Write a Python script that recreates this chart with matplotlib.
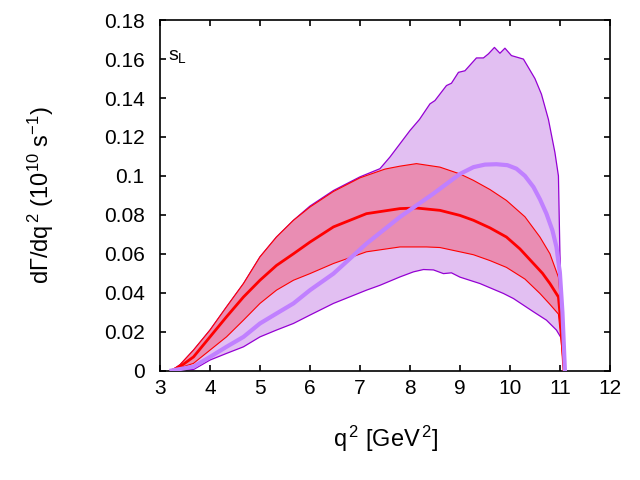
import numpy as np
import matplotlib
matplotlib.use("Agg")
import matplotlib.pyplot as plt
from matplotlib.ticker import FuncFormatter

plt.rcParams['font.family'] = ['Liberation Sans', 'DejaVu Sans']
plt.rcParams['mathtext.fontset'] = 'custom'
plt.rcParams['mathtext.rm'] = 'Liberation Sans'
plt.rcParams['mathtext.it'] = 'Liberation Sans'
plt.rcParams['mathtext.bf'] = 'Liberation Sans:bold'

# ---- data (q^2 in GeV^2, dGamma/dq^2 in 1e10 s^-1) ----
red_up_q = [3.23, 3.4, 3.67, 4.0, 4.33, 4.67, 5.0, 5.33, 5.67, 6.0, 6.47, 7.0, 7.5, 7.8, 8.13,
            8.6, 9.0, 9.27, 9.6, 9.93, 10.3, 10.6, 10.8, 10.97, 11.03, 11.08]
red_up_v = [0, 0.003, 0.0105, 0.0208, 0.0327, 0.0447, 0.0584, 0.0686, 0.0772, 0.084, 0.092, 0.099,
            0.1035, 0.105, 0.1063, 0.1045, 0.101, 0.0977, 0.093, 0.0874, 0.079, 0.0686, 0.060,
            0.048, 0.030, 0]

red_lo_q = [3.23, 3.67, 4.0, 4.33, 4.67, 5.0, 5.33, 5.67, 6.0, 6.47, 7.13, 7.8, 8.33, 8.6, 9.0,
            9.27, 9.6, 9.93, 10.3, 10.6, 10.8, 10.97, 11.08]
red_lo_v = [0, 0.0037, 0.0105, 0.0173, 0.0259, 0.0345, 0.0413, 0.0464, 0.0498, 0.055, 0.061,
            0.0635, 0.0635, 0.0632, 0.061, 0.0595, 0.0565, 0.053, 0.047, 0.0396, 0.034, 0.029, 0]

red_c_q = [3.23, 3.4, 3.67, 4.0, 4.33, 4.67, 5.0, 5.33, 5.67, 6.0, 6.47, 7.13, 7.8, 8.13, 8.6,
           9.0, 9.27, 9.6, 9.93, 10.2, 10.47, 10.65, 10.8, 10.97, 11.03, 11.08]
red_c_v = [0, 0.002, 0.007, 0.0173, 0.0276, 0.0378, 0.0464, 0.054, 0.060, 0.066, 0.0738, 0.0806,
           0.0832, 0.0835, 0.0823, 0.0797, 0.0772, 0.0733, 0.0686, 0.0625, 0.055, 0.050, 0.0447,
           0.0378, 0.021, 0]

pur_up_q = [3.23, 3.4, 3.67, 4.0, 4.33, 4.67, 5.0, 5.33, 5.67, 6.0, 6.47, 7.0, 7.4, 7.6, 7.8, 8.0,
            8.19, 8.4, 8.5, 8.73, 8.83, 8.97, 9.1, 9.33, 9.47, 9.57, 9.69, 9.8, 9.9, 10.03, 10.27,
            10.5, 10.63, 10.77, 10.9, 10.97, 11.0, 11.05, 11.1]
pur_up_v = [0, 0.003, 0.0105, 0.0208, 0.0327, 0.0447, 0.0584, 0.0686, 0.0772, 0.0845, 0.0925,
            0.0995, 0.1037, 0.1097, 0.1165, 0.1233, 0.129, 0.137, 0.1387, 0.1464, 0.1476, 0.1532,
            0.154, 0.1606, 0.1606, 0.1627, 0.166, 0.163, 0.1656, 0.1618, 0.160, 0.150, 0.142,
            0.129, 0.112, 0.100, 0.060, 0.020, 0]

pur_lo_q = [3.23, 3.67, 4.0, 4.33, 4.67, 5.0, 5.33, 5.67, 6.0, 6.47, 7.13, 7.4, 7.8, 8.07, 8.27,
            8.47, 8.67, 8.83, 9.0, 9.4, 9.87, 10.07, 10.47, 10.73, 10.93, 11.03, 11.1]
pur_lo_v = [0, 0.0005, 0.0054, 0.0088, 0.0122, 0.0173, 0.0208, 0.0242, 0.0285, 0.0345, 0.0413,
            0.0438, 0.0481, 0.0507, 0.0519, 0.0517, 0.0498, 0.0502, 0.048, 0.0447, 0.0396, 0.037,
            0.0302, 0.0259, 0.0208, 0.0165, 0]

pur_c_q = [3.23, 3.67, 4.0, 4.33, 4.67, 5.0, 5.33, 5.67, 6.0, 6.47, 7.13, 7.8, 8.47, 9.0, 9.27,
           9.5, 9.73, 9.95, 10.13, 10.3, 10.47, 10.6, 10.73, 10.85, 10.93, 11.0, 11.05, 11.1]
pur_c_v = [0, 0.002, 0.007, 0.0122, 0.0173, 0.0242, 0.0293, 0.0345, 0.0413, 0.0498, 0.0652,
           0.0789, 0.0909, 0.101, 0.1045, 0.1058, 0.106, 0.1055, 0.1037, 0.1, 0.0943, 0.088,
           0.0806, 0.072, 0.0635, 0.05, 0.03, 0]

x_ticks = [3, 4, 5, 6, 7, 8, 9, 10, 11, 12]
y_ticks = [0, 0.02, 0.04, 0.06, 0.08, 0.1, 0.12, 0.14, 0.16, 0.18]

# ---- figure ----
fig = plt.figure(figsize=(6.4, 4.8), dpi=100)
ax = fig.add_axes([0.25, 0.228, 0.703, 0.73])

pur_fill = '#e2bff2'
pur_edge = '#9400d3'
red_fill = '#e98db3'

ax.fill(np.concatenate([pur_up_q, pur_lo_q[::-1]]), np.concatenate([pur_up_v, pur_lo_v[::-1]]),
        facecolor=pur_fill, edgecolor='none', zorder=1)
ax.plot(pur_up_q, pur_up_v, color=pur_edge, lw=0.9, zorder=2)
ax.plot(pur_lo_q, pur_lo_v, color=pur_edge, lw=0.9, zorder=2)

ax.fill(np.concatenate([red_up_q, red_lo_q[::-1]]), np.concatenate([red_up_v, red_lo_v[::-1]]),
        facecolor=red_fill, edgecolor='none', zorder=3)
ax.plot(red_up_q, red_up_v, color='red', lw=0.8, zorder=4)
ax.plot(red_lo_q, red_lo_v, color='red', lw=0.8, zorder=4)
ax.plot(red_c_q, red_c_v, color='red', lw=2.0, zorder=5)
ax.plot(pur_c_q, pur_c_v, color='#c080ff', lw=3.0, zorder=6)

ax.set_xlim(3, 12)
ax.set_ylim(0, 0.18)
ax.set_xticks(x_ticks)
ax.set_yticks(y_ticks)
ax.yaxis.set_major_formatter(FuncFormatter(lambda v, p: '%g' % round(v, 2)))
ax.tick_params(direction='in', length=4, width=1.2, top=True, right=True,
               labelsize=15, colors='black')
ax.tick_params(axis='y', pad=11)
ax.tick_params(axis='x', pad=6)
for s in ax.spines.values():
    s.set_linewidth(1.2)

ax.set_xlabel(r'q$^{\,2}$ [GeV$^{\,2}$]', fontsize=17, va='top')
ax.xaxis.set_label_coords(0.502, -0.152)
ax.set_ylabel(r'd$\Gamma$/dq$^{\,2}$ (10$^{10}$ s$^{-1}$)', fontsize=17)
ax.yaxis.set_label_coords(-0.232, 0.5)
ax.text(0.018, 0.886, r's$_{\rm L}$', transform=ax.transAxes, fontsize=14,
        ha='left', va='baseline')

fig.savefig('out.png', dpi=100)
